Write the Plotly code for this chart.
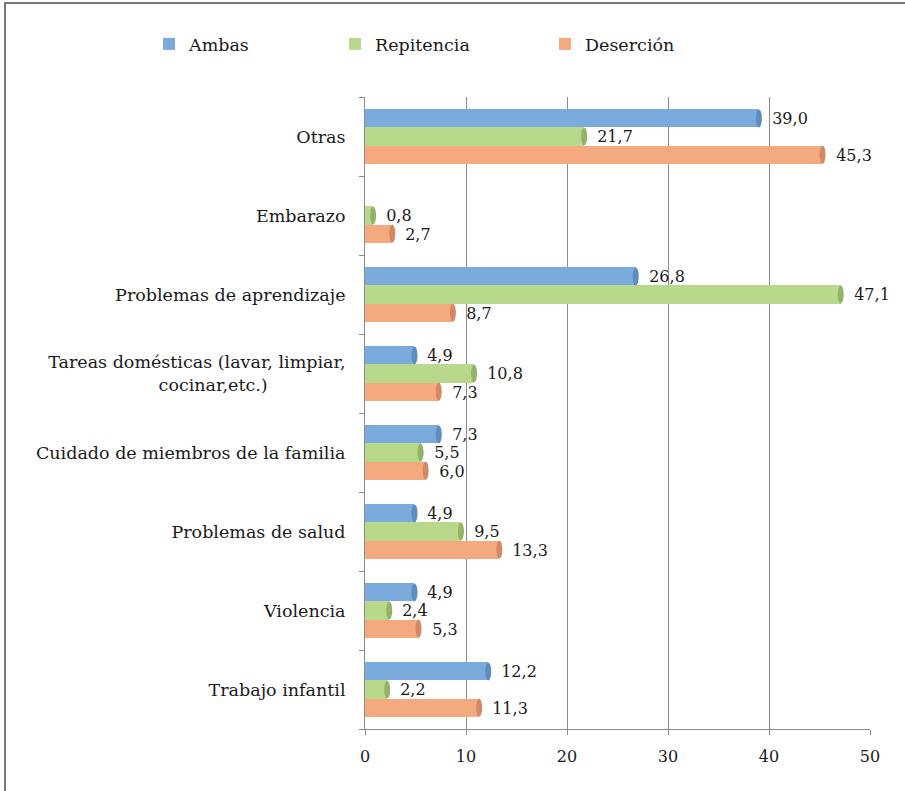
import plotly.graph_objects as go
import numpy as np

categories = ["Trabajo infantil", "Violencia", "Problemas de salud",
              "Cuidado de miembros de la familia",
              "Tareas domésticas (lavar, limpiar,<br>cocinar,etc.)" + "\u00a0" * 14,
              "Problemas de aprendizaje", "Embarazo", "Otras"]
ambas = [12.2, 4.9, 4.9, 7.3, 4.9, 26.8, None, 39.0]
repitencia = [2.2, 2.4, 9.5, 5.5, 10.8, 47.1, 0.8, 21.7]
desercion = [11.3, 5.3, 13.3, 6.0, 7.3, 8.7, 2.7, 45.3]
x_ticks = [0, 10, 20, 30, 40, 50]

FONT = "DejaVu Serif"
BW = 0.228
series = [
    ("Ambas", ambas, BW, "#7BABDC", "#5C8EC2", "legend"),
    ("Repitencia", repitencia, 0.0, "#B8D98B", "#93B466", "legend2"),
    ("Deserción", desercion, -BW, "#F5A97F", "#D38A63", "legend3"),
]

def fmt(v):
    return "" if v is None else "\u00a0\u00a0" + f"{v:.1f}".replace(".", ",")

fig = go.Figure()
shapes = []
idx = np.arange(len(categories))
for name, vals, off, col, capcol, lg in series:
    ypos = idx + off
    fig.add_trace(go.Bar(
        name=name, orientation="h", x=vals, y=ypos, width=BW,
        marker=dict(color=col, line=dict(width=0)),
        text=[fmt(v) for v in vals], textposition="outside",
        textfont=dict(family=FONT, size=16, color="#1a1a1a"),
        constraintext="none", cliponaxis=False, legend=lg, showlegend=True,
        hoverinfo="skip",
    ))
    for v, yp in zip(vals, ypos):
        if v is None:
            continue
        shapes.append(dict(type="circle", xref="x", yref="y",
                           x0=v - 0.3, x1=v + 0.3, y0=yp - BW / 2, y1=yp + BW / 2,
                           fillcolor=capcol, line=dict(width=0), layer="above"))

# outer frame
shapes.append(dict(type="rect", xref="paper", yref="paper",
                   x0=(5 - 365) / 505, x1=2, y0=-1, y1=(729 - 3) / 632,
                   line=dict(color="#777777", width=2), fillcolor="rgba(0,0,0,0)"))

leg_common = dict(orientation="h", yanchor="middle", xanchor="left",
                  font=dict(family=FONT, size=17.5, color="#1a1a1a"),
                  bgcolor="rgba(0,0,0,0)")
fig.update_layout(
    width=905, height=791,
    margin=dict(l=365, r=35, t=97, b=62, autoexpand=False),
    plot_bgcolor="white", paper_bgcolor="white",
    barmode="overlay", bargap=0, showlegend=True,
    font=dict(family=FONT, size=17, color="#1a1a1a"),
    shapes=shapes,
    legend=dict(x=(149 - 365) / 505, y=(729 - 44) / 632, **leg_common),
    legend2=dict(x=(335 - 365) / 505, y=(729 - 44) / 632, **leg_common),
    legend3=dict(x=(545 - 365) / 505, y=(729 - 44) / 632, **leg_common),
    xaxis=dict(range=[0, 50], tickvals=x_ticks, showgrid=True, gridcolor="#8c8c8c",
               gridwidth=1, showline=True, linecolor="#8c8c8c", linewidth=1,
               ticks="outside", ticklen=5, tickcolor="#8c8c8c", zeroline=False,
               tickfont=dict(family=FONT, size=16, color="#1a1a1a"),
               ticklabelstandoff=8, fixedrange=True, automargin=False),
    yaxis=dict(range=[-0.5, len(categories) - 0.5], tickvals=list(idx), ticktext=categories,
               showgrid=False, zeroline=False, showline=True, linecolor="#8c8c8c",
               linewidth=1, ticks="", ticklabelstandoff=15, automargin=False,
               tickfont=dict(family=FONT, size=17.5, color="#1a1a1a"),
               minor=dict(tickvals=list(idx - 0.5) + [len(categories) - 0.5],
                          ticks="outside", ticklen=5, tickcolor="#8c8c8c", showgrid=False),
               fixedrange=True),
)
fig.write_html("out.html", config={"displayModeBar": False},
               post_script="document.body.style.margin='0';")
